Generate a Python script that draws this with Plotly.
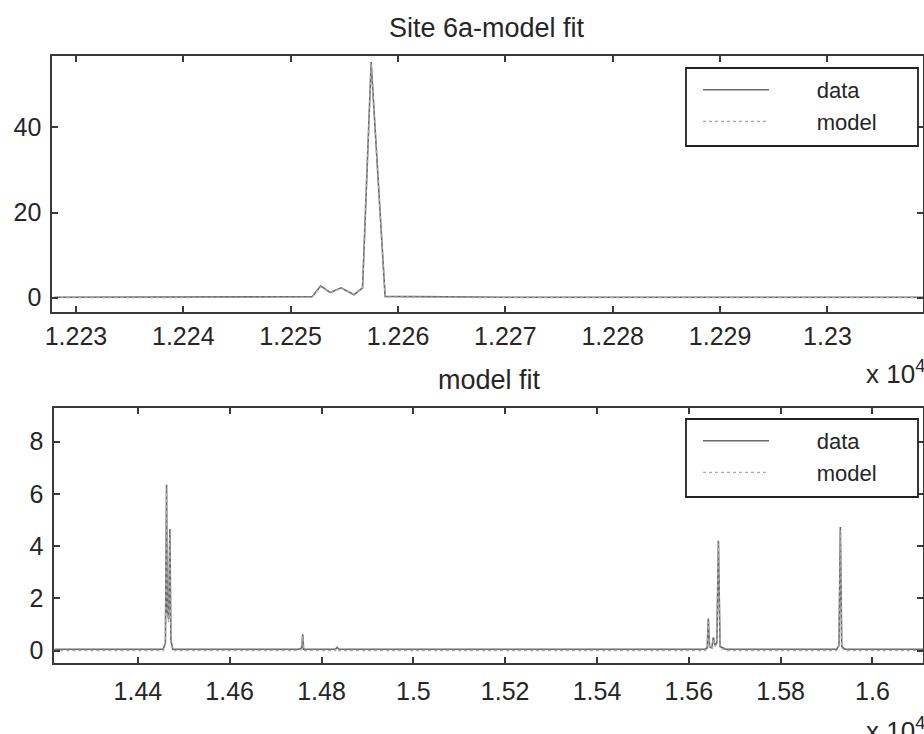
import plotly.graph_objects as go

# ---------------- data ----------------
# top panel: Site 6a
top_x = [12228, 12240, 12252.0, 12252.8, 12253.7, 12254.7, 12255.9, 12256.7, 12257.5, 12258.8, 12270, 12290, 12309]
top_data = [0.1, 0.1, 0.2, 2.8, 1.2, 2.3, 0.7, 2.3, 55.4, 0.3, 0.1, 0.1, 0.1]
top_model = [0.0, 0.0, 0.1, 2.6, 1.3, 2.2, 0.8, 2.2, 55.0, 0.2, 0.0, 0.0, 0.0]
top_ticks = [12230, 12240, 12250, 12260, 12270, 12280, 12290, 12300]
top_ticktext = ["1.223", "1.224", "1.225", "1.226", "1.227", "1.228", "1.229", "1.23"]

# bottom panel
bot_x = [14218, 14455, 14460, 14462.5, 14464, 14467, 14469.7, 14472, 14476, 14750, 14757, 14759, 14761,
         14830, 14834, 14838, 15635, 15640, 15642.5, 15645, 15650, 15653.5, 15657, 15661, 15664.4, 15668,
         15675, 15680, 15922, 15927, 15930, 15933, 15940, 16110]
bot_data = [0.05, 0.05, 0.3, 6.35, 1.5, 1.2, 4.65, 0.4, 0.05, 0.05, 0.1, 0.62, 0.05,
            0.05, 0.12, 0.05, 0.05, 0.1, 1.22, 0.15, 0.1, 0.5, 0.2, 0.3, 4.2, 0.15,
            0.1, 0.05, 0.05, 0.2, 4.73, 0.15, 0.05, 0.05]
bot_model = [0.0, 0.0, 0.2, 6.2, 1.4, 1.1, 4.5, 0.3, 0.0, 0.0, 0.05, 0.55, 0.0,
             0.0, 0.08, 0.0, 0.0, 0.05, 1.1, 0.1, 0.05, 0.45, 0.15, 0.25, 4.1, 0.1,
             0.05, 0.0, 0.0, 0.15, 4.6, 0.1, 0.0, 0.0]
bot_ticks = [14400, 14600, 14800, 15000, 15200, 15400, 15600, 15800, 16000]
bot_ticktext = ["1.44", "1.46", "1.48", "1.5", "1.52", "1.54", "1.56", "1.58", "1.6"]

W, H = 924, 734
FONT = "Liberation Sans, Arial, sans-serif"
TXT = "#262626"
AX = "#3a3a3a"
NB = "\u00a0"

fig = go.Figure()
fig.add_trace(go.Scatter(x=top_x, y=top_data, mode="lines", name=NB * 7 + "data",
                         line=dict(color="#6a6a6a", width=1.6), xaxis="x", yaxis="y", legend="legend"))
fig.add_trace(go.Scatter(x=top_x, y=top_model, mode="lines", name=NB * 7 + "model",
                         line=dict(color="#a8a8a8", width=1.4, dash="dot"), xaxis="x", yaxis="y", legend="legend"))
fig.add_trace(go.Scatter(x=bot_x, y=bot_data, mode="lines", name=NB * 7 + "data",
                         line=dict(color="#6a6a6a", width=1.6), xaxis="x2", yaxis="y2", legend="legend2"))
fig.add_trace(go.Scatter(x=bot_x, y=bot_model, mode="lines", name=NB * 7 + "model",
                         line=dict(color="#a8a8a8", width=1.4, dash="dot"), xaxis="x2", yaxis="y2", legend="legend2"))


def px_x(p):
    return p / W


def px_y(p):
    return 1 - p / H


axis_common = dict(showgrid=False, zeroline=False, showline=True, linecolor=AX, linewidth=1.8,
                   mirror="allticks", ticks="inside", ticklen=6, tickwidth=1.5, tickcolor=AX,
                   automargin=False,
                   tickfont=dict(family=FONT, size=25, color=TXT))

leg_common = dict(xanchor="left", yanchor="top", bgcolor="rgba(0,0,0,0)", borderwidth=0,
                  font=dict(family=FONT, size=22, color=TXT), itemwidth=66, tracegroupgap=0)

fig.update_layout(
    width=W, height=H,
    margin=dict(l=0, r=0, t=0, b=0),
    paper_bgcolor="white", plot_bgcolor="white",
    font=dict(family=FONT, color=TXT),
    xaxis=dict(domain=[px_x(52.3), px_x(923)], range=[12227.8, 12308.9], anchor="y",
               tickvals=top_ticks, ticktext=top_ticktext, ticklabelstandoff=1, **axis_common),
    yaxis=dict(domain=[px_y(311.7), px_y(56)], range=[-3.3, 56.8], anchor="x",
               tickvals=[0, 20, 40], ticklabelstandoff=4, **axis_common),
    xaxis2=dict(domain=[px_x(54.3), px_x(923)], range=[14218, 16110], anchor="y2",
                tickvals=bot_ticks, ticktext=bot_ticktext, ticklabelstandoff=5, **axis_common),
    yaxis2=dict(domain=[px_y(663.3), px_y(407.7)], range=[-0.49, 9.3], anchor="x2",
                tickvals=[0, 2, 4, 6, 8], ticklabelstandoff=4, **axis_common),
    legend=dict(x=px_x(698), y=px_y(69), **leg_common),
    legend2=dict(x=px_x(698), y=px_y(420), **leg_common),
    showlegend=True,
    shapes=[
        dict(type="rect", xref="paper", yref="paper", layer="above",
             x0=px_x(686), x1=px_x(918), y0=px_y(146), y1=px_y(68),
             line=dict(color="#222", width=1.8), fillcolor="white"),
        dict(type="rect", xref="paper", yref="paper", layer="above",
             x0=px_x(686), x1=px_x(918), y0=px_y(497), y1=px_y(419),
             line=dict(color="#222", width=1.8), fillcolor="white"),
    ],
    annotations=[
        dict(text="Site 6a-model fit", x=px_x(487), y=px_y(28), xref="paper", yref="paper",
             xanchor="center", yanchor="middle", showarrow=False,
             font=dict(family=FONT, size=27, color=TXT)),
        dict(text="model fit", x=px_x(489), y=px_y(380), xref="paper", yref="paper",
             xanchor="center", yanchor="middle", showarrow=False,
             font=dict(family=FONT, size=27, color=TXT)),
        dict(text="x 10<sup>4</sup>", x=px_x(864), y=px_y(372), xref="paper", yref="paper",
             xanchor="left", yanchor="middle", showarrow=False,
             font=dict(family=FONT, size=26, color=TXT)),
        dict(text="x 10<sup>4</sup>", x=px_x(864), y=px_y(729), xref="paper", yref="paper",
             xanchor="left", yanchor="middle", showarrow=False,
             font=dict(family=FONT, size=26, color=TXT)),
    ],
)

fig.write_html("out.html")
